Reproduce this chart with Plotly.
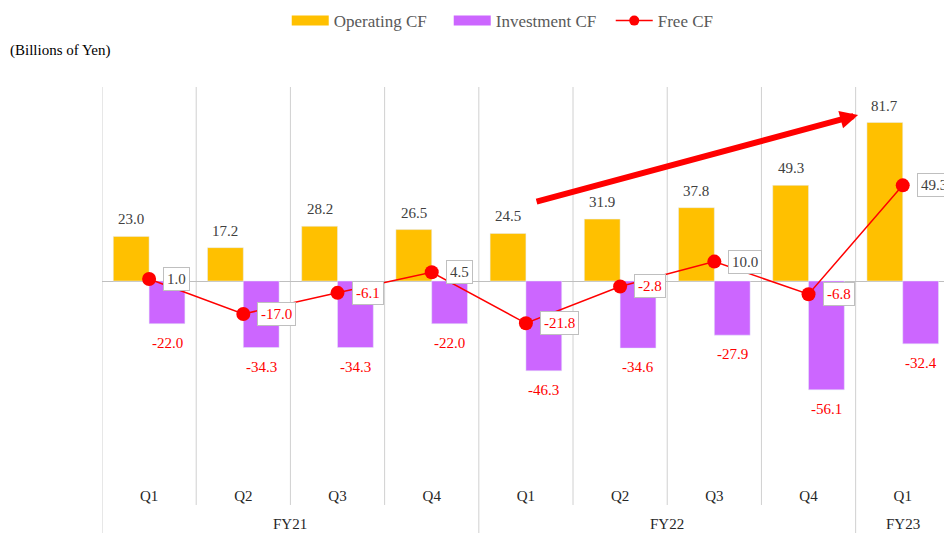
import plotly.graph_objects as go

quarters = ["Q1", "Q2", "Q3", "Q4", "Q1", "Q2", "Q3", "Q4", "Q1"]
fiscal_years = ["FY21", "FY22", "FY23"]
fy_spans = [(0, 3), (4, 7), (8, 8)]
operating_cf = [23.0, 17.2, 28.2, 26.5, 24.5, 31.9, 37.8, 49.3, 81.7]
investment_cf = [-22.0, -34.3, -34.3, -22.0, -46.3, -34.6, -27.9, -56.1, -32.4]
free_cf = [1.0, -17.0, -6.1, 4.5, -21.8, -2.8, 10.0, -6.8, 49.3]

FONT = "Liberation Serif"
ORANGE = "#FFC000"
PURPLE = "#CC66FF"
RED = "#FF0000"
GRAY_TXT = "#404040"
GRID = "#D0D0D0"

idx = list(range(len(quarters)))
bargap = 0.24
offset = (1 - bargap) / 4

fig = go.Figure()
fig.add_trace(go.Bar(x=idx, y=operating_cf, name="Operating CF", marker_color=ORANGE,
                     showlegend=False, legendgroup="op"))
fig.add_trace(go.Bar(x=idx, y=investment_cf, name="Investment CF", marker_color=PURPLE,
                     showlegend=False, legendgroup="inv"))
fig.add_trace(go.Scatter(x=idx, y=free_cf, name="Free CF", mode="lines+markers",
                         line=dict(color=RED, width=1.5),
                         marker=dict(color=RED, size=14), showlegend=False))
# legend entries
fig.add_trace(go.Scatter(x=[None], y=[None], mode="lines", name="Operating CF",
                         line=dict(color=ORANGE, width=10), legendgroup="op"))
fig.add_trace(go.Scatter(x=[None], y=[None], mode="lines", name="Investment CF",
                         line=dict(color=PURPLE, width=10), legendgroup="inv"))
fig.add_trace(go.Scatter(x=[None], y=[None], mode="lines+markers", name="Free CF",
                         line=dict(color=RED, width=1.5), marker=dict(color=RED, size=10)))

ann = []
for i, v in enumerate(operating_cf):
    ann.append(dict(x=i - offset, y=v, text=f"{v:.1f}", showarrow=False, yanchor="middle",
                    yshift=17, font=dict(family=FONT, size=15, color=GRAY_TXT)))
for i, v in enumerate(investment_cf):
    ann.append(dict(x=i + offset, y=v, text=f"{v:.1f}", showarrow=False, yanchor="middle",
                    yshift=-19, font=dict(family=FONT, size=15, color=RED)))
for i, v in enumerate(free_cf):
    ann.append(dict(x=i, y=v, text=f"{v:.1f}", showarrow=False, xanchor="left", yanchor="middle",
                    xshift=14, bgcolor="white", bordercolor="#BFBFBF", borderwidth=1, borderpad=3,
                    font=dict(family=FONT, size=15, color=(RED if v < 0 else GRAY_TXT))))
for name, (a, b) in zip(fiscal_years, fy_spans):
    ann.append(dict(x=(a + b) / 2, xref="x", y=-0.126, yref="paper", text=name, showarrow=False,
                    yanchor="middle", font=dict(family=FONT, size=15, color="#262626")))
ann.append(dict(x=-0.1116, xref="paper", y=1.095, yref="paper", text="(Billions of Yen)",
                showarrow=False, xanchor="left", yanchor="middle",
                font=dict(family=FONT, size=15, color="black")))
# trend arrow
ann.append(dict(x=7.526, y=85.6, ax=4.097, ay=40.7, axref="x", ayref="y", xref="x", yref="y",
                text="", showarrow=True, arrowhead=2, arrowsize=0.6, arrowwidth=6,
                arrowcolor=RED))

shapes = []
for k in range(len(quarters) + 1):
    xb = k - 0.5
    is_fy = any(xb == a - 0.5 for a, _ in fy_spans)
    shapes.append(dict(type="line", xref="x", yref="paper", x0=xb, x1=xb, y0=(-0.1495 if is_fy else -0.0773), y1=1,
                       line=dict(color=GRID, width=1), layer="below"))

fig.update_layout(
    width=944, height=533,
    margin=dict(l=102, r=0, t=87, b=58),
    paper_bgcolor="white", plot_bgcolor="white",
    barmode="group", bargap=bargap, bargroupgap=0,
    font=dict(family=FONT, size=15, color="#262626"),
    legend=dict(orientation="h", x=0.508, xanchor="center", y=1.17, yanchor="middle",
                font=dict(family=FONT, size=17, color="#595959"), itemwidth=37,
                entrywidth=110, entrywidthmode="pixels", traceorder="normal"),
    annotations=ann, shapes=shapes,
    xaxis=dict(range=[-0.5, 8.438], tickvals=idx, ticktext=quarters, showgrid=False,
               zeroline=False, showline=False, ticks="", ticklabelstandoff=10,
               tickfont=dict(family=FONT, size=15, color="#262626")),
    yaxis=dict(range=[-100, 100], visible=True, showticklabels=False, showgrid=False,
               zeroline=True, zerolinecolor="#BFBFBF", zerolinewidth=1, ticks=""),
)

fig.write_html("out.html", config={"displayModeBar": False},
               post_script="document.body.style.margin='0px';")
